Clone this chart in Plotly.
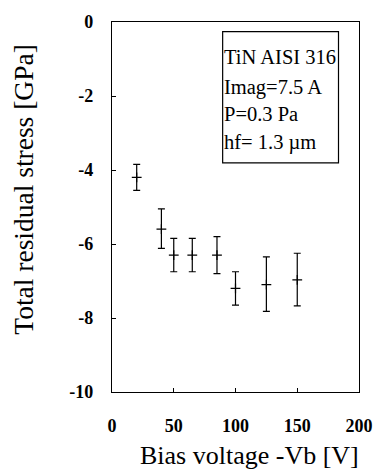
import plotly.graph_objects as go

bias_voltage = [20, 40, 50, 65, 85, 100, 125, 150]
stress = [-4.2, -5.6, -6.3, -6.3, -6.3, -7.2, -7.1, -6.97]
err_plus = [0.35, 0.55, 0.45, 0.45, 0.5, 0.45, 0.75, 0.72]
err_minus = [0.35, 0.52, 0.45, 0.45, 0.5, 0.45, 0.72, 0.7]
x_ticks = [0, 50, 100, 150, 200]
x_ticktext = ["0", "50", "100", "150", "200"]
y_ticks = [0, -2, -4, -6, -8, -10]
y_ticktext = ["0", "-2", "-4", "-6", "-8", "-10"]
info_lines = ["TiN AISI 316", "Imag=7.5 A", "P=0.3 Pa", "hf= 1.3 \u00b5m"]

serif = "Liberation Serif"

fig = go.Figure()
fig.add_trace(go.Scatter(
    x=bias_voltage, y=stress, mode="markers",
    marker=dict(symbol="cross-thin", size=7, line=dict(color="black", width=1.2), color="black"),
    error_y=dict(type="data", symmetric=False, array=err_plus, arrayminus=err_minus,
                 color="black", thickness=1.2, width=3.5),
    showlegend=False,
))

axis_common = dict(
    showline=True, linecolor="black", linewidth=1.2, mirror=True,
    ticks="inside", ticklen=4, tickcolor="black", showgrid=False, zeroline=False,
    tickfont=dict(family=serif, size=18, color="black"),
)
fig.update_xaxes(range=[0, 200], tickvals=x_ticks,
                 ticktext=["<b>%s</b>" % t for t in x_ticktext],
                 ticklabelstandoff=17, **axis_common)
fig.update_yaxes(range=[-10, 0], tickvals=y_ticks,
                 ticktext=["<b>%s</b>" % t for t in y_ticktext],
                 ticklabelstandoff=14, **axis_common)

fig.add_shape(type="rect", xref="paper", yref="paper", x0=0.448, x1=0.917, y0=0.619, y1=0.974,
              line=dict(color="black", width=1.2), fillcolor="white", layer="above")
ys = [0.905, 0.822, 0.752, 0.674]
for t, yy in zip(info_lines, ys):
    fig.add_annotation(text=t, xref="paper", yref="paper", x=0.447, y=yy, xanchor="left",
                       yanchor="middle", showarrow=False,
                       font=dict(family=serif, size=20.5, color="black"))

fig.add_annotation(text="Bias voltage -Vb [V]", xref="paper", yref="paper", x=(255-112)/256,
                   y=-(457-392)/380, xanchor="center", yanchor="middle", showarrow=False,
                   font=dict(family=serif, size=26, color="black"))
fig.add_annotation(text="Total residual stress [GPa]", xref="paper", yref="paper",
                   x=-(112-20)/256, y=1-(184-12)/380, xanchor="center", yanchor="middle",
                   textangle=-90, showarrow=False,
                   font=dict(family=serif, size=27.5, color="black"))

fig.update_layout(
    width=385, height=475,
    margin=dict(l=112, r=17, t=12, b=83),
    plot_bgcolor="white", paper_bgcolor="white",
)
fig.write_html("out.html")
